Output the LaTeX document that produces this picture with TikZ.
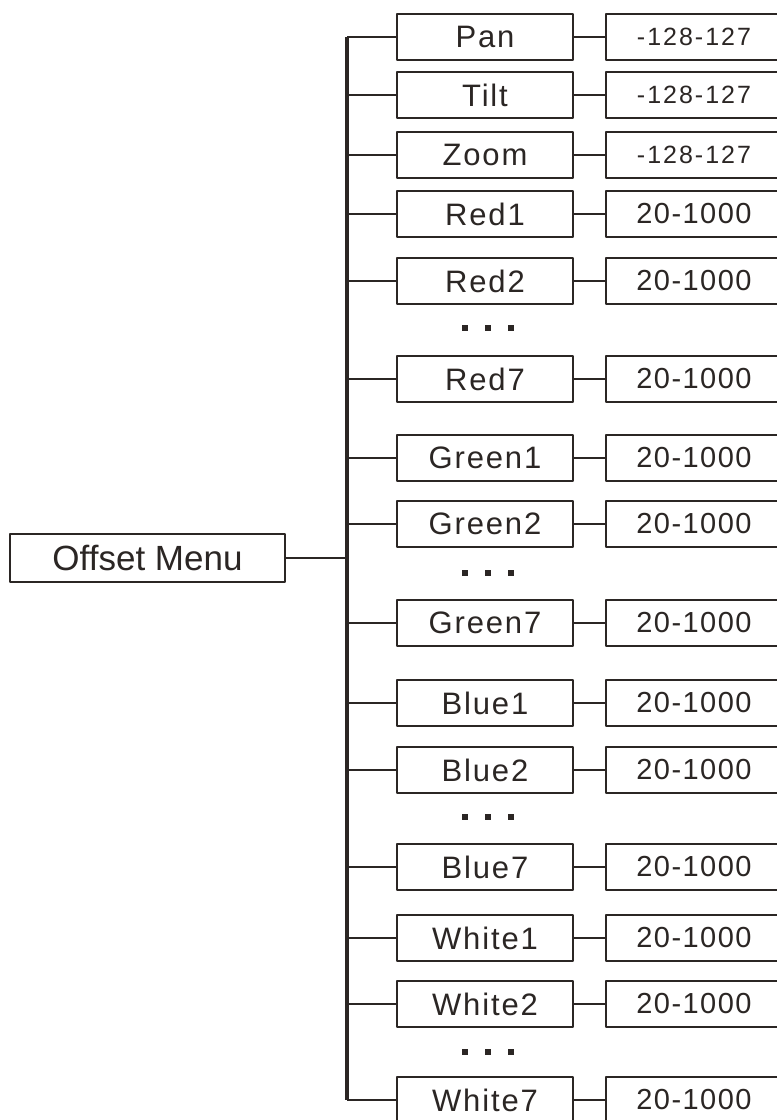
\documentclass[tikz,border=0pt]{standalone}
\usepackage{fontspec}
\setmainfont{Liberation Sans}
\newfontfamily\menufont{Liberation Sans}
\newfontfamily\itemfont[LetterSpace=6]{Liberation Sans}
\newfontfamily\valfont[LetterSpace=5]{Liberation Sans}
\newfontfamily\smallvalfont[LetterSpace=8]{Liberation Sans}
\definecolor{ink}{HTML}{2B2624}
\tikzset{
  every picture/.style={line join=round},
  box/.style={draw=ink, line width=1.2pt, inner sep=0pt, text=ink},
  item/.style={box, minimum width=88pt, minimum height=23pt, font=\itemfont\fontsize{15.5}{18}\selectfont},
  value/.style={box, minimum width=88pt, minimum height=23pt, font=\valfont\fontsize{14.5}{17}\selectfont},
  smallvalue/.style={value, font=\smallvalfont\fontsize{12.5}{15}\selectfont},
  link/.style={draw=ink, line width=1.2pt},
}
\begin{document}
\begin{tikzpicture}[x=0.5pt,y=-0.5pt]
\useasboundingbox[fill=white] (0,0) rectangle (777,1120);
\node[box, minimum width=137.5pt, minimum height=24pt, font=\menufont\fontsize{17.5}{20}\selectfont] (menu) at (147.5,558) {Offset Menu};
% one row per channel: bar junction, name box, range box
\foreach \name/\y/\val/\vs in {Pan/37/-128-127/smallvalue, Tilt/95/-128-127/smallvalue,
  Zoom/155/-128-127/smallvalue, Red1/214/20-1000/value, Red2/281/20-1000/value,
  Red7/379/20-1000/value, Green1/458/20-1000/value, Green2/524/20-1000/value,
  Green7/623/20-1000/value, Blue1/703/20-1000/value, Blue2/770/20-1000/value,
  Blue7/867/20-1000/value, White1/938/20-1000/value, White2/1004/20-1000/value,
  White7/1100/20-1000/value}{
  \coordinate (j-\name) at (347,\y);
  \node[item] (\name) at (485,\y) {\name};
  \node[\vs] (\name v) at (694,\y) {\val};
  \draw[link] (j-\name) -- (\name.west);
  \draw[link] (\name.east) -- (\name v.west);
}
\draw[ink, line width=2.4pt] (j-Pan) -- (j-White7);
\draw[link] (menu.east) -- (menu.east -| j-Pan);
% the dots between channels
\foreach \y in {328,573,817,1052}
  \foreach \x in {465,488,511}
    \fill[ink] (\x-3,\y-3) rectangle (\x+3,\y+3);
\end{tikzpicture}
\end{document}
